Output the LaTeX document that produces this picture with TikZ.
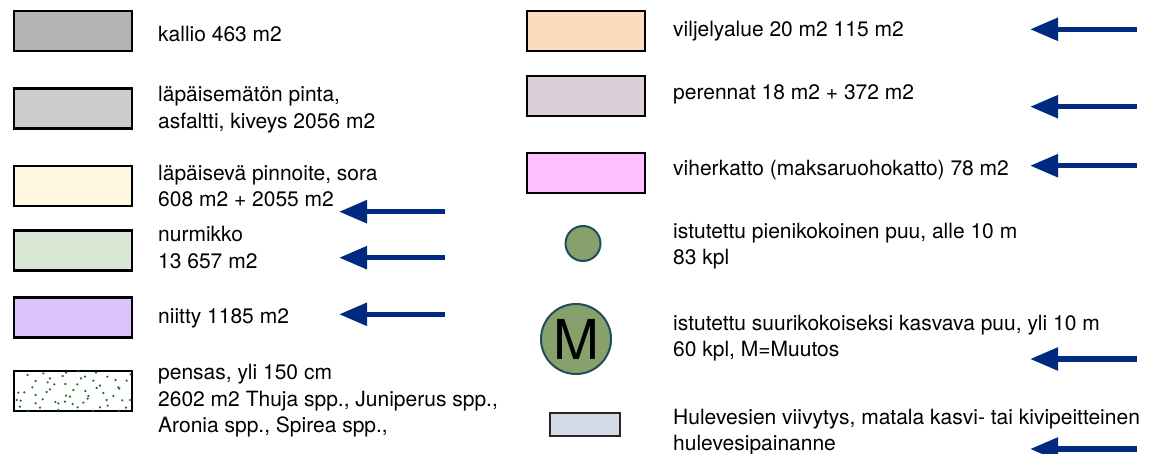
\documentclass[tikz,border=0pt]{standalone}
\usepackage{fontspec}
\setmainfont{TeX Gyre Heros}
\usetikzlibrary{arrows.meta}
\definecolor{cKallio}{HTML}{B3B3B3}
\definecolor{cAsfaltti}{HTML}{CCCCCC}
\definecolor{cSora}{HTML}{FFF7E1}
\definecolor{cNurmi}{HTML}{D9E8D5}
\definecolor{cNiitty}{HTML}{DCC3FB}
\definecolor{cViljely}{HTML}{FCDCBE}
\definecolor{cPerenna}{HTML}{DCCFDA}
\definecolor{cViher}{HTML}{FFBEFF}
\definecolor{cPuu}{HTML}{87A06C}
\definecolor{cPuuRaja}{HTML}{1E4D5C}
\definecolor{cHule}{HTML}{D3DAE5}
\definecolor{cNavy}{HTML}{002A80}
\definecolor{cDot}{HTML}{1E6B1E}
\begin{document}
\begin{tikzpicture}[x=1pt,y=-1pt,
  swatch/.style={draw=black, line width=2.4pt, minimum width=118pt, minimum height=40pt, inner sep=0pt},
  tree/.style={circle, draw=cPuuRaja, line width=2pt, fill=cPuu, inner sep=0pt},
  lbl/.style={anchor=base west, inner sep=0pt, font=\fontsize{21}{26.7}\selectfont},
  arr/.style={draw=cNavy, line width=5.5pt, -{Triangle[length=28pt,width=22pt]}}]
\useasboundingbox (0,0) rectangle (1153,454);
\newcommand{\lines}[1]{\begin{tabular}[t]{@{}l@{}}#1\end{tabular}}
% left column swatches
\node[swatch, fill=cKallio]   (kallio) at (73,31.3) {};
\node[swatch, fill=cAsfaltti] (asfaltti) at (73,108.7) {};
\node[swatch, fill=cSora]     (sora) at (73,186.3) {};
\node[swatch, fill=cNurmi]    (nurmi) at (73,250.5) {};
\node[swatch, fill=cNiitty]   (niitty) at (73,317.5) {};
\node[swatch, fill=white]     (pensas) at (73,391) {};
\begin{scope}[shift={(0,360)}, x=1/3pt, y=-1/3pt]
\foreach \px/\py in {83/45,130/40,188/48,198/38,235/34,243/55,255/50,288/38,322/50,347/60,380/62,392/43,
  107/63,143/67,163/73,196/72,232/73,300/77,290/84,355/82,358/86,97/82,150/88,140/96,55/98,73/97,
  107/105,256/93,310/99,198/107,210/110,265/108,263/116,50/120,62/122,166/126,175/130,218/132,
  320/120,323/137,367/121,390/120,107/130,120/143,233/142,300/142,378/143,175/150,85/152,278/152,
  356/152,128/118,340/108,60/140,250/128,195/125,280/62,220/90,150/55}
  \fill[cDot] (\px,\py) circle (1.2pt);
\end{scope}
% left labels
\node[lbl] (tKallio) at (158,41.5) {kallio 463 m2};
\node[lbl] (tAsfaltti) at (158,101.7) {\lines{läpäisemätön pinta,\\asfaltti, kiveys 2056 m2}};
\node[lbl] (tSora) at (158,180.3) {\lines{läpäisevä pinnoite, sora\\608 m2 + 2055 m2}};
\node[lbl] (tNurmi) at (158,241.7) {\lines{nurmikko\\13 657 m2}};
\node[lbl] (tNiitty) at (158,323.3) {niitty 1185 m2};
\node[lbl] (tPensas) at (158,379.3) {\lines{pensas, yli 150 cm\\2602 m2 Thuja spp., Juniperus spp.,\\Aronia spp., Spirea spp.,}};
% right column swatches
\node[swatch, fill=cViljely]  (viljely) at (586,31.2) {};
\node[swatch, fill=cPerenna]  (perenna) at (586,96.2) {};
\node[swatch, fill=cViher]    (viher) at (586,173.3) {};
\node[tree, minimum size=35pt] (pieni) at (583,243.5) {};
\node[tree, minimum size=70pt, font=\fontsize{55}{55}\selectfont] (suuri) at (576,339) {M};
\node[draw=black!85, line width=1.8pt, fill=cHule, minimum width=70pt, minimum height=23pt, inner sep=0pt] (hule) at (585,424.2) {};
% right labels
\node[lbl] (tViljely) at (673,37) {viljelyalue 20 m2 115 m2};
\node[lbl] (tPerenna) at (673,100) {perennat 18 m2 + 372 m2};
\node[lbl] (tViher) at (673,175.7) {viherkatto (maksaruohokatto) 78 m2};
\node[lbl] (tPieni) at (673,238.3) {\lines{istutettu pienikokoinen puu, alle 10 m\\83 kpl}};
\node[lbl] (tSuuri) at (673,330) {\lines{istutettu suurikokoiseksi kasvava puu, yli 10 m\\60 kpl, M=Muutos}};
\node[lbl] (tHule) at (673,424) {\lines{Hulevesien viivytys, matala kasvi- tai kivipeitteinen\\hulevesipainanne}};
% arrows
\coordinate (a1s) at (445,211.7); \coordinate (a1e) at (339,211.7);
\coordinate (a2s) at (445,257.7); \coordinate (a2e) at (339,257.7);
\coordinate (a3s) at (445,314.3); \coordinate (a3e) at (339,314.3);
\coordinate (b1s) at (1137,29.3); \coordinate (b1e) at (1030,29.3);
\coordinate (b2s) at (1137,106.7); \coordinate (b2e) at (1030,106.7);
\coordinate (b3s) at (1137,165.7); \coordinate (b3e) at (1030,165.7);
\coordinate (b4s) at (1137,359); \coordinate (b4e) at (1030,359);
\coordinate (b5s) at (1137,449); \coordinate (b5e) at (1030,449);
\foreach \s/\e in {a1s/a1e,a2s/a2e,a3s/a3e,b1s/b1e,b2s/b2e,b3s/b3e,b4s/b4e,b5s/b5e}
  \draw[arr] (\s) -- (\e);
\end{tikzpicture}
\end{document}
